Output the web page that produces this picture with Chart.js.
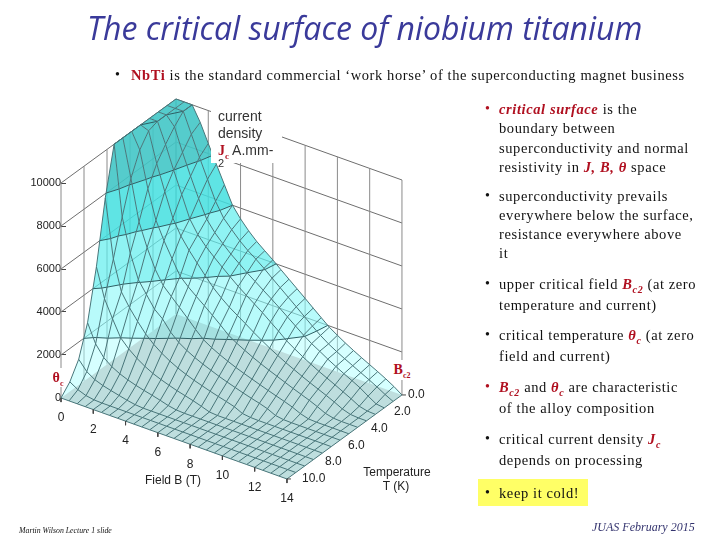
<!DOCTYPE html>
<html>
<head>
<meta charset="utf-8">
<title>The critical surface of niobium titanium</title>
<script src="https://cdn.jsdelivr.net/npm/chart.js@4"></script>
<style>
    html, body { margin: 0; padding: 0; background: #fff; }
    #page { position: relative; width: 720px; height: 540px; overflow: hidden; }
    #surface { position: absolute; left: 0; top: 0; }
    .title { position: absolute; left: 87px; top: 6px; font: italic 32px "Open Sans"; color: #3a3a9a; white-space: nowrap; }
    .line { position: absolute; white-space: nowrap; font: 14.5px/18px "Liberation Serif"; color: #111; letter-spacing: 0.6px; }
    .dot { position: absolute; font: 14px/18px "Liberation Serif"; color: #111; }
    .red { color: #b01020; font-weight: bold; }
    .red.it { font-style: italic; }
    .line sub { font-size: 10px; line-height: 0; }
    .chartnote { position: absolute; background: #fff; font: 14px/17px "Liberation Sans"; color: #333; }
    .keep { position: absolute; left: 478px; top: 479px; width: 110px; height: 27px; background: #ffff66; }
</style>
</head>
<body>
<div id="page">
    <canvas id="surface" width="720" height="540"></canvas>

    <div class="title">The critical surface of niobium titanium</div>

    <div class="dot" style="left:115px;top:66px">•</div>
    <div class="line" style="left:131px;top:66px"><span class="red">NbTi</span> is the standard commercial ‘work horse’ of the superconducting magnet business</div>

    <div class="dot" style="left:485px;top:100px;color:#b01020">•</div>
    <div class="line" style="left:499px;top:100px"><span class="red it">critical surface</span> is the</div>
    <div class="line" style="left:499px;top:119px">boundary between</div>
    <div class="line" style="left:499px;top:139px">superconductivity and normal</div>
    <div class="line" style="left:499px;top:158px">resistivity in <span class="red it">J, B, θ</span> space</div>

    <div class="dot" style="left:485px;top:187px">•</div>
    <div class="line" style="left:499px;top:187px">superconductivity prevails</div>
    <div class="line" style="left:499px;top:206px">everywhere below the surface,</div>
    <div class="line" style="left:499px;top:225px">resistance everywhere above</div>
    <div class="line" style="left:499px;top:244px">it</div>

    <div class="dot" style="left:485px;top:275px">•</div>
    <div class="line" style="left:499px;top:275px">upper critical field <span class="red it">B<sub>c2</sub></span> (at zero</div>
    <div class="line" style="left:499px;top:296px">temperature and current)</div>

    <div class="dot" style="left:485px;top:326px">•</div>
    <div class="line" style="left:499px;top:326px">critical temperature <span class="red it">θ<sub>c</sub></span> (at zero</div>
    <div class="line" style="left:499px;top:347px">field and current)</div>

    <div class="dot" style="left:485px;top:378px;color:#b01020">•</div>
    <div class="line" style="left:499px;top:378px"><span class="red it">B<sub>c2</sub></span> and <span class="red it">θ<sub>c</sub></span> are characteristic</div>
    <div class="line" style="left:499px;top:399px">of the alloy composition</div>

    <div class="dot" style="left:485px;top:430px">•</div>
    <div class="line" style="left:499px;top:430px">critical current density <span class="red it">J<sub>c</sub></span></div>
    <div class="line" style="left:499px;top:451px">depends on processing</div>

    <div class="keep"></div>
    <div class="dot" style="left:485px;top:484px">•</div>
    <div class="line" style="left:499px;top:484px">keep it cold!</div>

    <div class="line" style="left:19px;top:522px;font-size:7.8px;font-style:italic;letter-spacing:0">Martin Wilson Lecture 1 slide</div>
    <div class="line" style="left:592px;top:518px;font-size:12px;font-style:italic;letter-spacing:0;color:#33336e">JUAS February 2015</div>

    <div class="chartnote" style="left:211px;top:108px;width:64px;height:55px;padding-left:7px">current<br>density<br><span class="red" style="font-family:'Liberation Serif'">J<sub style="font-size:9px">c</sub></span> A.mm-<div style="font-size:11px;line-height:9px;margin-top:-6px">2</div></div>
    <div class="chartnote" style="left:50px;top:368px;width:16px;height:19px;font:bold 14px/19px 'Liberation Serif';color:#b01020;text-align:center">θ<sub style="font-size:8px;line-height:0">c</sub></div>
    <div class="chartnote" style="left:390px;top:360px;width:24px;height:20px;font:bold 14px/20px 'Liberation Serif';color:#b01020;text-align:center">B<sub style="font-size:8px;line-height:0">c2</sub></div>
</div>

<script>
// Axis values and tick labels
const jTicks = [0, 2000, 4000, 6000, 8000, 10000];
const bTicks = [0, 2, 4, 6, 8, 10, 12, 14];
const tTicks = [0, 2, 4, 6, 8, 10];
const tTickLabels = ['0.0', '2.0', '4.0', '6.0', '8.0', '10.0'];
const bandLevels = [0, 2000, 4000, 6000, 8000, 10000];
const bandColors = ['rgba(173,255,255,0.5)', 'rgba(137,248,248,0.6)', 'rgba(95,238,238,0.7)', 'rgba(67,223,223,0.85)', 'rgba(66,199,199,0.9)'];

// Mesh nodes of the surface, field B (T) and temperature T (K)
const bValues = [0, 0.5, 1, 1.5, 2, 2.5, 3, 3.5, 4, 4.5, 5, 5.5, 6, 6.5, 7, 7.5, 8, 8.5, 9, 9.5, 10, 10.5, 11, 11.5, 12, 12.5, 13, 13.5, 14];
const tValues = [0, 0.77, 1.54, 2.31, 3.08, 3.85, 4.62, 5.38, 6.15, 6.92, 7.69, 8.46, 9.23, 10];

// Critical current density A/mm2, one row for each temperature
const jcValues = [
    [10000, 10000, 10000, 9320, 8470, 7640, 6820, 6000, 5500, 5080, 4720, 4420, 4130, 3810, 3500, 3190, 2880, 2560, 2250, 1940, 1700, 1470, 1260, 1060, 870, 680, 480, 260, 0],
    [10000, 10000, 10000, 9065, 8130, 7240, 6350, 5700, 5300, 4920, 4600, 4330, 4040, 3720, 3410, 3100, 2790, 2470, 2160, 1860, 1600, 1380, 1180, 990, 800, 610, 410, 190, 0],
    [10000, 10000, 9580, 8530, 7550, 6640, 5820, 5330, 4950, 4600, 4300, 4000, 3730, 3460, 3190, 2910, 2620, 2330, 2040, 1780, 1560, 1330, 1120, 920, 730, 530, 280, 50, 0],
    [10000, 10000, 9060, 8000, 7000, 6000, 5400, 4980, 4630, 4300, 3980, 3670, 3390, 3120, 2850, 2550, 2260, 1940, 1700, 1470, 1260, 1060, 880, 700, 510, 320, 110, 20, 0],
    [10000, 9860, 8470, 7300, 6200, 5500, 4980, 4520, 4070, 3640, 3300, 3000, 2750, 2500, 2240, 2000, 1770, 1560, 1360, 1180, 1000, 830, 670, 510, 340, 150, 30, 0, 0],
    [10000, 9270, 7600, 6270, 5450, 4750, 4070, 3710, 3400, 3100, 2790, 2470, 2130, 1900, 1700, 1510, 1340, 1180, 1030, 880, 730, 590, 450, 290, 110, 20, 0, 0, 0],
    [10000, 8250, 6360, 5300, 4430, 3800, 3430, 3060, 2690, 2300, 1950, 1720, 1530, 1360, 1200, 1060, 930, 800, 670, 550, 430, 300, 130, 20, 0, 0, 0, 0, 0],
    [10000, 6750, 5200, 4100, 3550, 3000, 2680, 2200, 1860, 1620, 1420, 1250, 1100, 950, 820, 700, 580, 470, 370, 250, 70, 10, 0, 0, 0, 0, 0, 0, 0],
    [7800, 5100, 3700, 3100, 2600, 2150, 1800, 1520, 1290, 1100, 940, 800, 680, 560, 450, 350, 240, 60, 10, 0, 0, 0, 0, 0, 0, 0, 0, 0, 0],
    [4900, 3550, 2750, 2000, 1620, 1320, 1080, 880, 730, 600, 480, 380, 280, 160, 30, 0, 0, 0, 0, 0, 0, 0, 0, 0, 0, 0, 0, 0, 0],
    [2600, 1750, 1250, 960, 760, 610, 490, 390, 300, 200, 90, 20, 0, 0, 0, 0, 0, 0, 0, 0, 0, 0, 0, 0, 0, 0, 0, 0, 0],
    [1200, 760, 520, 380, 280, 190, 100, 30, 0, 0, 0, 0, 0, 0, 0, 0, 0, 0, 0, 0, 0, 0, 0, 0, 0, 0, 0, 0, 0],
    [450, 220, 80, 15, 0, 0, 0, 0, 0, 0, 0, 0, 0, 0, 0, 0, 0, 0, 0, 0, 0, 0, 0, 0, 0, 0, 0, 0, 0],
    [0, 0, 0, 0, 0, 0, 0, 0, 0, 0, 0, 0, 0, 0, 0, 0, 0, 0, 0, 0, 0, 0, 0, 0, 0, 0, 0, 0, 0]
];

// Oblique view: how one tesla or one kelvin moves a point across the page.
// The y scale is in A/mm2, so the depth is expressed in the same unit.
const bMax = 14, tMax = 10, jMax = 10000;
function viewX(b, t) { return 176 + 16.14 * b - 11.5 * t; }
function viewY(b, t, j) { return j - 269 * b - 390.7 * (t - tMax); }
function node(b, t, j) { return { x: viewX(b, t), y: viewY(b, t, j) }; }

const datasets = [];

// Function to add a plain line
function addLine(points, color, width) {
    datasets.push({ data: points, showLine: true, pointRadius: 0, tension: 0, borderColor: color, borderWidth: width, fill: false });
}

// Function to add a filled polygon
function addShape(points, color) {
    datasets.push({ data: points, showLine: true, pointRadius: 0, tension: 0, borderWidth: 0, borderColor: 'transparent', backgroundColor: color, fill: 'shape' });
}

// Function to keep the part of a mesh cell above or below a level
function clipCell(cell, level, keepAbove) {
    const kept = [];
    cell.forEach((a, i) => {
        const b = cell[(i + 1) % cell.length];
        const aIn = keepAbove ? a.j >= level : a.j <= level;
        const bIn = keepAbove ? b.j >= level : b.j <= level;
        if (aIn) kept.push(a);
        if (aIn !== bIn) {
            const f = (level - a.j) / (b.j - a.j);
            kept.push({ b: a.b + f * (b.b - a.b), t: a.t + f * (b.t - a.t), j: level });
        }
    });
    return kept;
}

// Back walls, drawn first so that they show through the surface
const wallColor = '#8a8a8a';
jTicks.forEach(j => {
    if (j > 0) {
        addLine([node(0, tMax, j), node(0, 0, j), node(bMax, 0, j)], '#6e6e6e', 1);
    }
});
tTicks.forEach(t => addLine([node(0, t, 0), node(0, t, jMax)], wallColor, 1));
bTicks.forEach(b => addLine([node(b, 0, 0), node(b, 0, jMax)], wallColor, 1));

// Floor seen through the surface
addShape([node(0, tMax, 0), node(bMax, tMax, 0), node(bMax, 0, 0), node(0, 0, 0)], 'rgb(207,189,189)');

// Surface cells cut into the coloured bands
const cells = [];
tValues.slice(0, -1).forEach((t, i) => {
    bValues.slice(0, -1).forEach((b, k) => {
        const cell = [
            { b: b, t: t, j: jcValues[i][k] },
            { b: bValues[k + 1], t: t, j: jcValues[i][k + 1] },
            { b: bValues[k + 1], t: tValues[i + 1], j: jcValues[i + 1][k + 1] },
            { b: b, t: tValues[i + 1], j: jcValues[i + 1][k] }
        ];
        cells.push(cell);
        bandColors.forEach((color, n) => {
            const part = clipCell(clipCell(cell, bandLevels[n], true), bandLevels[n + 1], false);
            if (part.length > 2) {
                addShape(part.map(p => node(p.b, p.t, p.j)), color);
            }
        });
    });
});

// Contour lines at every band level
bandLevels.slice(1).forEach(level => {
    const points = [];
    cells.forEach(cell => {
        const hits = [];
        cell.forEach((a, i) => {
            const b = cell[(i + 1) % 4];
            if ((a.j < level) !== (b.j < level)) {
                const f = (level - a.j) / (b.j - a.j);
                hits.push(node(a.b + f * (b.b - a.b), a.t + f * (b.t - a.t), level));
            }
        });
        if (hits.length >= 2) {
            points.push(hits[0], hits[1], { x: NaN, y: NaN });
        }
    });
    addLine(points, 'rgb(45,95,100)', 1);
});

// Mesh lines along both directions
const meshColor = 'rgb(72,118,122)';
tValues.forEach((t, i) => addLine(bValues.map((b, k) => node(b, t, jcValues[i][k])), meshColor, 1));
bValues.forEach((b, k) => addLine(tValues.map((t, i) => node(b, t, jcValues[i][k])), meshColor, 1));

// Little ticks on the two floor axes
bTicks.forEach(b => addLine([node(b, tMax, 0), node(b, tMax, -190)], '#444', 1));
addLine([node(bMax, 0, 0), { x: viewX(bMax, 0) + 4, y: viewY(bMax, 0, 0) }], '#444', 1);
addLine([node(bMax, tMax, 0), { x: viewX(bMax, tMax) + 4, y: viewY(bMax, tMax, 0) }], '#444', 1);

// Chart.js draws the first dataset on top, so turn the painter's order round
datasets.reverse();

// Labels of the floor axes, which lie at a slant
const floorLabels = {
    id: 'floorLabels',
    afterDatasetsDraw(chart) {
        const { ctx, scales } = chart;
        ctx.save();
        ctx.fillStyle = '#222';
        ctx.font = '12px "Liberation Sans"';
        ctx.textAlign = 'center';
        ctx.textBaseline = 'middle';
        bTicks.forEach(b => {
            ctx.fillText(String(b), scales.x.getPixelForValue(viewX(b, tMax)), scales.y.getPixelForValue(viewY(b, tMax, 0)) + 20);
        });
        ctx.textAlign = 'left';
        tTicks.forEach((t, i) => {
            const shift = t === 0 ? 6 : 15;
            ctx.fillText(tTickLabels[i], scales.x.getPixelForValue(viewX(bMax, t)) + shift, scales.y.getPixelForValue(viewY(bMax, t, 0)));
        });
        ctx.textAlign = 'center';
        ctx.fillText('Field B (T)', 173, 481);
        ctx.fillText('Temperature', 397, 473);
        ctx.fillText('T (K)', 396, 487);
        ctx.restore();
    }
};

new Chart(document.getElementById('surface').getContext('2d'), {
    type: 'scatter',
    data: { datasets: datasets },
    plugins: [floorLabels],
    options: {
        responsive: false,
        animation: false,
        layout: { padding: 0 },
        plugins: { legend: { display: false }, tooltip: { enabled: false } },
        scales: {
            x: { type: 'linear', display: false, min: 0, max: 720 },
            y: {
                type: 'linear',
                min: -6605,
                max: 18512,
                position: { x: 61 },
                afterFit: scale => { scale.width = 0; },
                afterBuildTicks: scale => { scale.ticks = jTicks.map(v => ({ value: v })); },
                border: { display: false },
                grid: { drawOnChartArea: false, drawTicks: true, tickLength: -5, color: '#444' },
                ticks: { padding: -7, color: '#222', font: { family: 'Liberation Sans', size: 11 }, autoSkip: false, callback: v => String(v) }
            }
        }
    }
});
</script>
</body>
</html>
